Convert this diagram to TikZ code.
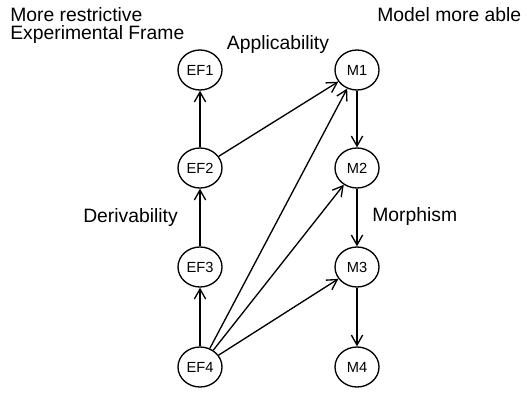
\documentclass[tikz,border=0pt]{standalone}
\usepackage{fontspec}
\setmainfont{Liberation Sans}
\usetikzlibrary{arrows.meta,shapes.geometric}

\begin{document}
\begin{tikzpicture}[
		x=0.75pt, y=-0.75pt,
		%Option for open arrow heads
		>={Straight Barb[length=7.5pt,width=8.5pt]}, %
		frame/.style={ellipse, draw, line width=1pt, inner sep=0pt,%
			minimum width=33pt, minimum height=30pt,%
			font=\fontsize{11}{11}\selectfont},
		link/.style={line width=1pt, ->},
		note/.style={inner sep=0pt, font=\fontsize{14.5}{14.5}\selectfont},
	]
		% Bounding box
		\useasboundingbox (0,0) rectangle (527,393);

		% Experimental frames
		\node[frame] (EF1) at (200, 70) {EF1};
		\node[frame] (EF2) at (200,168) {EF2};
		\node[frame] (EF3) at (200,267) {EF3};
		\node[frame] (EF4) at (200,367) {EF4};

		% Models
		\node[frame] (M1) at (357, 70) {M1};
		\node[frame] (M2) at (357,168) {M2};
		\node[frame] (M3) at (357,267) {M3};
		\node[frame] (M4) at (357,367) {M4};

		% Texts
		\node[note, anchor=base west] (restr) at (10,21) {More restrictive};
		\node[note, anchor=base west] (expfr) at (10,39) {Experimental Frame};
		\node[note, anchor=base] (appl) at (278,49) {Applicability};
		\node[note, anchor=base west] (able) at (377,21) {Model more able};
		\node[note, anchor=base west] (deriv) at (83,222) {Derivability};
		\node[note, anchor=base west] (morph) at (372,221) {Morphism};

		% Derivability
		\draw[link] (EF4) -- (EF3);
		\draw[link] (EF3) -- (EF2);
		\draw[link] (EF2) -- (EF1);

		% Applicability
		\draw[link] (EF2) -- (M1);
		\draw[link] (EF4) -- (M1);
		\draw[link] (EF4) -- (M2);
		\draw[link] (EF4) -- (M3);

		% Morphism
		\draw[link] (M1) -- (M2);
		\draw[link] (M2) -- (M3);
		\draw[link] (M3) -- (M4);
	\end{tikzpicture}
\end{document}
